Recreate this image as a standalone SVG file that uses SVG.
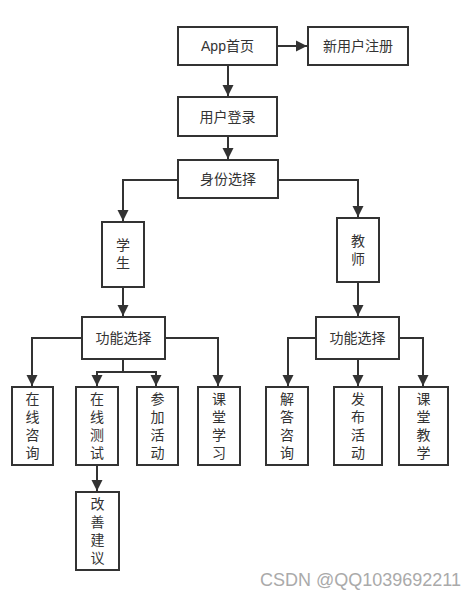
<svg xmlns="http://www.w3.org/2000/svg" width="470" height="597" viewBox="0 0 470 597">
<style>
.box{fill:#fff;stroke:#333;stroke-width:2}
.t{font-family:"Liberation Sans","Noto Sans CJK SC",sans-serif;font-size:14px;fill:#333;text-anchor:middle;dominant-baseline:central}
.c{fill:none;stroke:#333;stroke-width:2}
</style>
<defs>
<marker id="ah" markerUnits="userSpaceOnUse" markerWidth="12" markerHeight="12" viewBox="0 0 12 12" refX="11" refY="6" orient="auto">
<path d="M0,0.5 L11,6 L0,11.5 Z" fill="#333"/>
</marker>
</defs>
<rect width="470" height="597" fill="#fff"/>
<g id="connectors">
<path class="c" d="M277,46 H307" marker-end="url(#ah)"/>
<path class="c" d="M228,65 V96" marker-end="url(#ah)"/>
<path class="c" d="M228,136 V159" marker-end="url(#ah)"/>
<path class="c" d="M178,180 H123 V221" marker-end="url(#ah)"/>
<path class="c" d="M278,180 H358 V217" marker-end="url(#ah)"/>
<path class="c" d="M123,287 V316" marker-end="url(#ah)"/>
<path class="c" d="M358,282 V316" marker-end="url(#ah)"/>
<path class="c" d="M82,338 H32 V386" marker-end="url(#ah)"/>
<path class="c" d="M165,338 H218 V386" marker-end="url(#ah)"/>
<path class="c" d="M123,359 V372 H97 V386" marker-end="url(#ah)"/>
<path class="c" d="M123,372 H156 V386" marker-end="url(#ah)"/>
<path class="c" d="M97,465 V491" marker-end="url(#ah)"/>
<path class="c" d="M316,338 H288 V386" marker-end="url(#ah)"/>
<path class="c" d="M358,359 V386" marker-end="url(#ah)"/>
<path class="c" d="M399,338 H423 V386" marker-end="url(#ah)"/>
</g>
<g id="app"><rect class="box" x="178" y="27" width="99" height="38"/><text class="t" x="227.5" y="46">App首页</text></g>
<g id="register"><rect class="box" x="308" y="27" width="100" height="38"/><text class="t" x="358" y="46">新用户注册</text></g>
<g id="login"><rect class="box" x="178" y="97" width="99" height="39"/><text class="t" x="227.5" y="116.5">用户登录</text></g>
<g id="identity"><rect class="box" x="178" y="160" width="100" height="38"/><text class="t" x="228" y="179">身份选择</text></g>
<g id="student"><rect class="box" x="102" y="222" width="42" height="65"/><text class="t" x="123" y="245">学</text><text class="t" x="123" y="263">生</text></g>
<g id="teacher"><rect class="box" x="337" y="218" width="42" height="64"/><text class="t" x="358" y="241">教</text><text class="t" x="358" y="259">师</text></g>
<g id="func-left"><rect class="box" x="82" y="317" width="83" height="42"/><text class="t" x="123.5" y="338">功能选择</text></g>
<g id="func-right"><rect class="box" x="316" y="317" width="83" height="42"/><text class="t" x="357.5" y="338">功能选择</text></g>
<g id="online-consult"><rect class="box" x="12" y="387" width="41" height="78"/><text class="t" x="32.5" y="399">在</text><text class="t" x="32.5" y="417">线</text><text class="t" x="32.5" y="435">咨</text><text class="t" x="32.5" y="453">询</text></g>
<g id="online-test"><rect class="box" x="76" y="387" width="42" height="78"/><text class="t" x="97" y="399">在</text><text class="t" x="97" y="417">线</text><text class="t" x="97" y="435">测</text><text class="t" x="97" y="453">试</text></g>
<g id="join-activity"><rect class="box" x="137" y="387" width="41" height="78"/><text class="t" x="157.5" y="399">参</text><text class="t" x="157.5" y="417">加</text><text class="t" x="157.5" y="435">活</text><text class="t" x="157.5" y="453">动</text></g>
<g id="class-study"><rect class="box" x="198" y="387" width="42" height="78"/><text class="t" x="219" y="399">课</text><text class="t" x="219" y="417">堂</text><text class="t" x="219" y="435">学</text><text class="t" x="219" y="453">习</text></g>
<g id="improve"><rect class="box" x="76" y="492" width="43" height="78"/><text class="t" x="97.5" y="504">改</text><text class="t" x="97.5" y="522">善</text><text class="t" x="97.5" y="540">建</text><text class="t" x="97.5" y="558">议</text></g>
<g id="answer"><rect class="box" x="266" y="387" width="42" height="78"/><text class="t" x="287" y="399">解</text><text class="t" x="287" y="417">答</text><text class="t" x="287" y="435">咨</text><text class="t" x="287" y="453">询</text></g>
<g id="publish"><rect class="box" x="334" y="387" width="48" height="78"/><text class="t" x="358" y="399">发</text><text class="t" x="358" y="417">布</text><text class="t" x="358" y="435">活</text><text class="t" x="358" y="453">动</text></g>
<g id="class-teach"><rect class="box" x="399" y="387" width="49" height="78"/><text class="t" x="423.5" y="399">课</text><text class="t" x="423.5" y="417">堂</text><text class="t" x="423.5" y="435">教</text><text class="t" x="423.5" y="453">学</text></g>
<text x="260" y="586" font-family="'Liberation Sans',Arial,sans-serif" font-size="18" fill="#aaaaaa">CSDN @QQ1039692211</text>
</svg>
